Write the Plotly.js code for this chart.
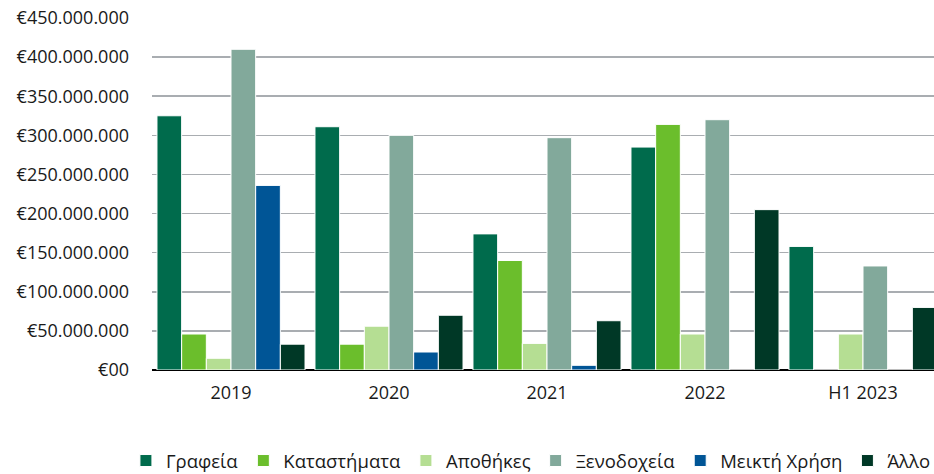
<!DOCTYPE html>
<html>
<head>
<meta charset="utf-8">
<script src="https://cdn.plot.ly/plotly-3.0.1.min.js"></script>
<style>
  html, body { margin: 0; padding: 0; overflow: hidden; background: #fff; }
  #chart { width: 1000px; height: 520px; }
</style>
</head>
<body>
<div id="chart"></div>
<script>
const categories = ['2019', '2020', '2021', '2022', 'H1 2023'];
const seriesNames = ['Γραφεία', 'Καταστήματα', 'Αποθήκες', 'Ξενοδοχεία', 'Μεικτή Χρήση', 'Άλλο'];
const grafeia      = [325000000, 311000000, 174000000, 285000000, 158000000];
const katastimata  = [46000000, 33000000, 140000000, 314000000, 0];
const apothikes    = [15000000, 56000000, 34000000, 46000000, 46000000];
const xenodocheia  = [410000000, 300000000, 297000000, 320000000, 133000000];
const meikti       = [236000000, 23000000, 6000000, 0, 0];
const allo         = [33000000, 70000000, 63000000, 205000000, 80000000];
const tickVals  = [0, 50000000, 100000000, 150000000, 200000000, 250000000, 300000000, 350000000, 400000000, 450000000];
const tickTexts = ['€00', '€50.000.000', '€100.000.000', '€150.000.000', '€200.000.000', '€250.000.000', '€300.000.000', '€350.000.000', '€400.000.000', '€450.000.000'];

const colors = ['#006B4C', '#6BBE2C', '#B5DE93', '#82A99B', '#005596', '#003826'];
const seriesValues = [grafeia, katastimata, apothikes, xenodocheia, meikti, allo];

const traces = seriesNames.map((name, i) => ({
  type: 'bar',
  name: name,
  x: categories,
  y: seriesValues[i],
  marker: { color: colors[i], line: { color: '#ffffff', width: 1 } },
  hoverinfo: 'x+y+name'
}));

const font = { family: '"Open Sans", "Noto Sans", sans-serif', size: 18, color: '#1a1a1a' };

const layout = {
  width: 1000,
  height: 520,
  margin: { l: 152, r: 58, t: 18, b: 150 },
  paper_bgcolor: '#ffffff',
  plot_bgcolor: '#ffffff',
  font: font,
  barmode: 'group',
  bargap: 0.063,
  bargroupgap: 0,
  showlegend: true,
  legend: {
    orientation: 'h',
    x: -0.033,
    xanchor: 'left',
    y: -0.2585,
    yanchor: 'middle',
    font: { family: font.family, size: 18.5, color: '#1a1a1a' },
    itemwidth: 30,
    traceorder: 'normal'
  },
  xaxis: {
    type: 'category',
    range: [-0.5, 4.5],
    showgrid: false,
    showline: false,
    ticks: '',
    ticklabelstandoff: 10,
    tickfont: font,
    fixedrange: true
  },
  yaxis: {
    range: [0, 450000000],
    tickvals: tickVals,
    ticktext: tickTexts,
    showgrid: true,
    gridcolor: '#a9adb1',
    gridwidth: 1.5,
    zeroline: true,
    zerolinecolor: '#000000',
    zerolinewidth: 2.5,
    layer: 'above traces',
    ticks: '',
    ticklabelstandoff: 22,
    tickfont: font,
    fixedrange: true
  }
};

Plotly.newPlot('chart', traces, layout, { displayModeBar: false, staticPlot: true });
</script>
</body>
</html>
